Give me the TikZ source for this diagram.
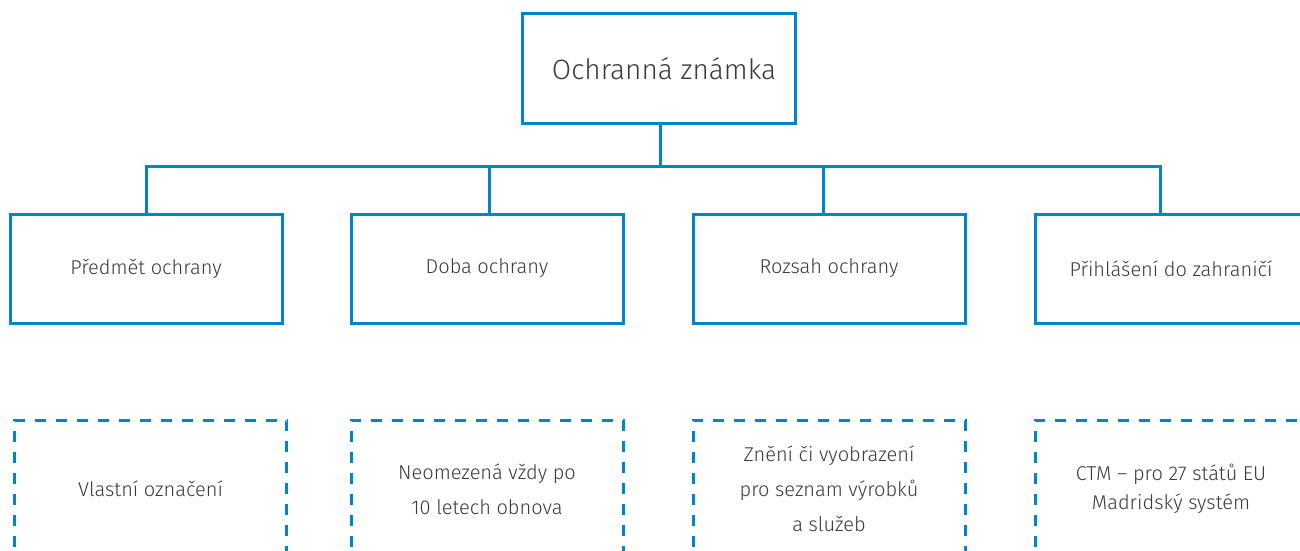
\documentclass[tikz,border=0pt]{standalone}
\usepackage{fontspec}
\setmainfont{Fira Sans}[UprightFont={* Light}]
\definecolor{tmblue}{RGB}{0,133,204}
\definecolor{tmtext}{RGB}{58,58,58}
\tikzset{
  solidbox/.style={draw=tmblue, line width=3pt, minimum width=272pt, minimum height=109pt,
    inner sep=0pt, text=tmtext, font=\fontsize{20}{24}\selectfont},
  topbox/.style={solidbox, minimum width=273pt, font=\fontsize{28}{32}\selectfont},
  noteBox/.style={draw=tmblue, line width=3pt, dash pattern=on 11pt off 10pt,
    minimum width=272pt, minimum height=138pt, inner sep=0pt, text=tmtext, align=center,
    font=\fontsize{20}{35}\selectfont},
  link/.style={draw=tmblue, line width=3pt}
}
\begin{document}
\begin{tikzpicture}[x=1pt, y=-1pt]
  \useasboundingbox (0,0) rectangle (1300,551);
  \clip (0,0) rectangle (1300,551);

  % root
  \node[topbox] (top) at (658.5,68.5) {\hspace*{11pt}Ochranná známka};

  % second level
  \node[solidbox] (b1) at (146,268.5) {\raisebox{-2pt}{Předmět ochrany}};
  \node[solidbox] (b2) at (487,268.5) {\raisebox{-2pt}{Doba ochrany}};
  \node[solidbox] (b3) at (829,268.5) {\raisebox{-2pt}{Rozsah ochrany}};
  \node[solidbox] (b4) at (1171,268.5) {\raisebox{-2pt}{Přihlášení do zahraničí}};

  % notes
  \node[noteBox] (d1) at (150.5,489) {Vlastní označení};
  \node[noteBox] (d2) at (487,489) {Neomezená vždy po\\10 letech obnova};
  \node[noteBox] (d3) at (829,489) {Znění či vyobrazení\\pro seznam výrobků\\a služeb};
  \node[noteBox, font=\fontsize{20}{29}\selectfont] (d4) at (1171,489) {CTM – pro 27 států EU\\Madridský systém};

  % connectors
  \coordinate (bus) at (0,166);
  \coordinate (topn) at ([xshift=1.5pt]top.south);
  \coordinate (b2n) at ([xshift=2pt]b2.north);
  \coordinate (b3n) at ([xshift=-6pt]b3.north);
  \coordinate (b4n) at ([xshift=-11pt]b4.north);
  \draw[link] (topn) -- (topn |- bus);
  \draw[link] (b1.north) -- (b1.north |- bus) -- (b4n |- bus) -- (b4n);
  \draw[link] (b2n |- bus) -- (b2n);
  \draw[link] (b3n |- bus) -- (b3n);
\end{tikzpicture}
\end{document}
